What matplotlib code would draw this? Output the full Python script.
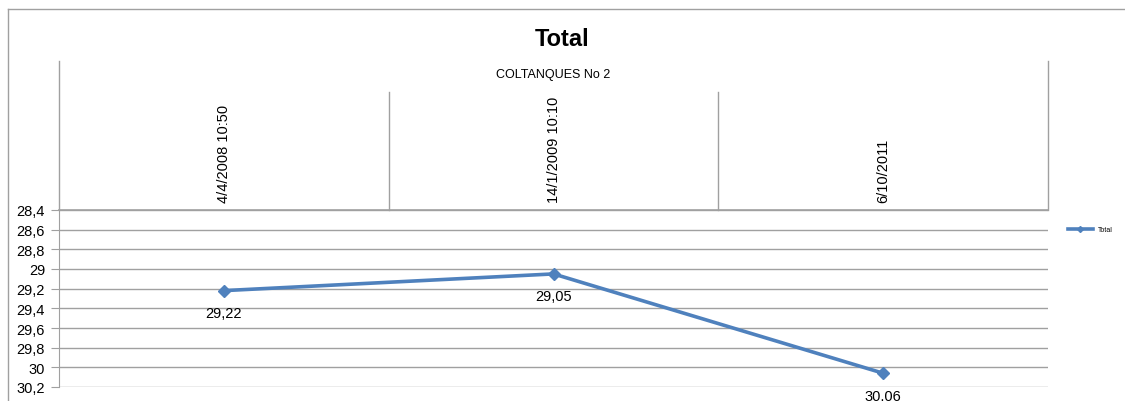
import numpy as np
import matplotlib.pyplot as plt
from matplotlib.lines import Line2D

# datos (eje y invertido, como en la hoja original)
categorias = ["4/4/2008 10:50", "14/1/2009 10:10", "6/10/2011"]
grupo = "COLTANQUES No 2"
valores = [29.22, 29.05, 30.06]
etiquetas = ["29,22", "29,05", "30,06"]
yticks = [28.4, 28.6, 28.8, 29.0, 29.2, 29.4, 29.6, 29.8, 30.0, 30.2]
ylabels = ["28,4", "28,6", "28,8", "29", "29,2", "29,4", "29,6", "29,8", "30", "30,2"]

plt.rcParams["font.family"] = ["Liberation Sans", "DejaVu Sans"]
W, H = 1125, 402
fig = plt.figure(figsize=(W / 100, H / 100), dpi=100)

def fx(px): return px / W
def fy(py): return 1 - py / H

gris = "#a0a0a0"
# marco del grafico
fig.add_artist(Line2D([fx(8), fx(1125)], [fy(10), fy(10)], color=gris, lw=1))
fig.add_artist(Line2D([fx(8), fx(8)], [fy(10), fy(402)], color=gris, lw=1))

x0, x1, ytop, ybot = 59, 1048, 211, 388
ax = fig.add_axes([fx(x0), fy(ybot), fx(x1 - x0), (ybot - ytop) / H])
x = np.arange(len(valores))
ax.plot(x, valores, color="#4F81BD", lw=2.6, marker="D", ms=6, label="Total")
ax.set_xlim(-0.5, len(valores) - 0.5)
ax.set_ylim(30.2, 28.4)
ax.set_yticks(yticks)
ax.set_yticklabels(ylabels, fontsize=10.5)
ax.set_xticks([])
ax.yaxis.grid(True, color=gris, lw=1)
ax.tick_params(axis="y", length=6, color=gris, pad=4)
for s in ["top", "right", "bottom"]:
    ax.spines[s].set_visible(False)
ax.spines["left"].set_color(gris)
for xi, v, t in zip(x, valores, etiquetas):
    ax.annotate(t, (xi, v), xytext=(0, -11), textcoords="offset points",
                ha="center", va="top", fontsize=10.5, annotation_clip=False)

# cabecera de categorias
ancho = (x1 - x0) / len(categorias)
fig.add_artist(Line2D([fx(x0), fx(x1)], [fy(ytop), fy(ytop)], color=gris, lw=1.2))
for px in [x0, x1]:
    fig.add_artist(Line2D([fx(px), fx(px)], [fy(62), fy(ytop)], color=gris, lw=1))
for i in range(1, len(categorias)):
    px = x0 + i * ancho
    fig.add_artist(Line2D([fx(px), fx(px)], [fy(93), fy(ytop)], color=gris, lw=1))
fig.text(fx((x0 + x1) / 2), fy(75), grupo, ha="center", va="center", fontsize=9)
for i, c in enumerate(categorias):
    fig.text(fx(x0 + (i + 0.5) * ancho), fy(203), c, rotation=90,
             ha="center", va="bottom", fontsize=10.5)

fig.text(0.5, fy(39), "Total", ha="center", va="center", fontsize=17, fontweight="bold")

ax.legend(loc="center left", bbox_to_anchor=(fx(1062 - x0) / fx(x1 - x0), 0.89),
          frameon=False, fontsize=5, handlelength=3.5, markerscale=0.5)

fig.savefig("out.png", dpi=100)
